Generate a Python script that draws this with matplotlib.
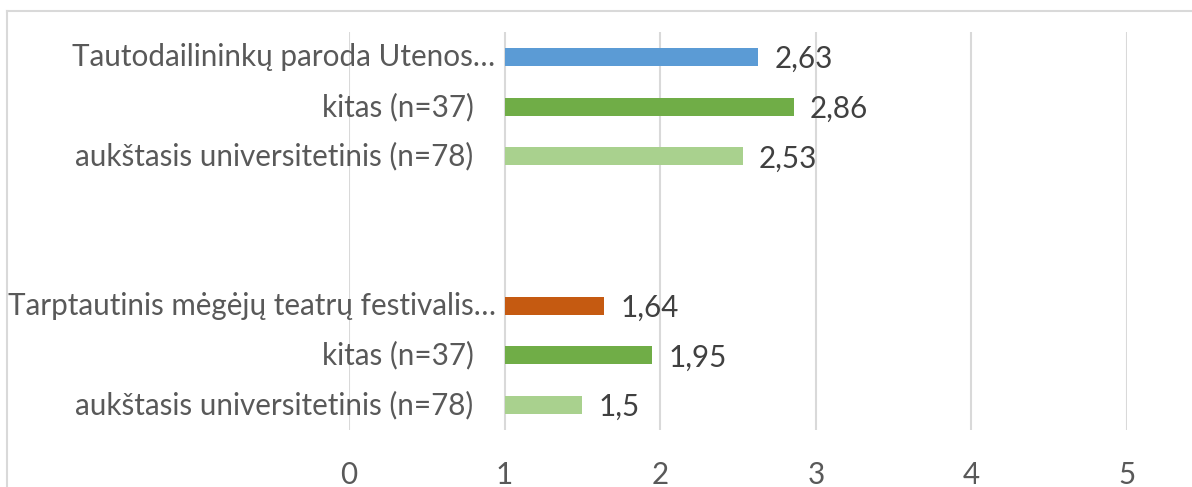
import matplotlib
matplotlib.use("Agg")
import matplotlib.pyplot as plt
from matplotlib.lines import Line2D

plt.rcParams['font.family'] = ['Lato', 'DejaVu Sans']

# categories listed from bottom to top, blanks are the gap between groups
labels = ["aukštasis universitetinis (n=78)", "kitas (n=37)",
          "Tarptautinis mėgėjų teatrų festivalis...", "", "",
          "aukštasis universitetinis (n=78)", "kitas (n=37)",
          "Tautodailininkų paroda Utenos..."]
values = [1.5, 1.95, 1.64, None, None, 2.53, 2.86, 2.63]
colors = ["#A9D18E", "#70AD47", "#C55A11", None, None,
          "#A9D18E", "#70AD47", "#5B9BD5"]
x_ticks = [0, 1, 2, 3, 4, 5]

FS = 21.3

fig = plt.figure(figsize=(11.92, 4.87), dpi=100)
W, H = 1192, 487
ax = fig.add_axes([349 / W, 1 - 430 / H, (1127 - 349) / W, (430 - 32) / H])

base = 1  # category axis crosses at 1
for i, (v, c) in enumerate(zip(values, colors)):
    if v is None:
        continue
    ax.barh(i, v - base, left=base, height=0.36, color=c, zorder=3)
    ax.annotate(f"{v:g}".replace(".", ","), xy=(v, i), xytext=(16, -2),
                textcoords="offset pixels", ha="left", va="center",
                fontsize=FS, color="#404040")

for i, lab in enumerate(labels):
    if not lab:
        continue
    off = -9 if lab.endswith("...") else -31
    text = lab.replace("...", "…")
    ax.annotate(text, xy=(base, i), xytext=(off, 0),
                textcoords="offset pixels", ha="right", va="center",
                fontsize=FS, color="#595959")

ax.set_xlim(0, 5)
ax.set_ylim(-0.5, len(labels) - 0.5)
ax.set_xticks(x_ticks)
ax.set_xticklabels([str(t) for t in x_ticks], fontsize=FS, color="#595959")
ax.tick_params(axis="x", length=0, pad=22)
ax.set_yticks([])
ax.grid(axis="x", color="#D9D9D9", linewidth=1.5, zorder=0)
for s in ax.spines.values():
    s.set_visible(False)

# chart frame (right and bottom cut off in the original)
fig.add_artist(Line2D([7.5 / W, 1], [1 - 11 / H] * 2, color="#D9D9D9",
                      linewidth=1.5, transform=fig.transFigure))
fig.add_artist(Line2D([7.5 / W] * 2, [0, 1 - 11 / H], color="#D9D9D9",
                      linewidth=1.5, transform=fig.transFigure))

fig.savefig("out.png", dpi=100)
